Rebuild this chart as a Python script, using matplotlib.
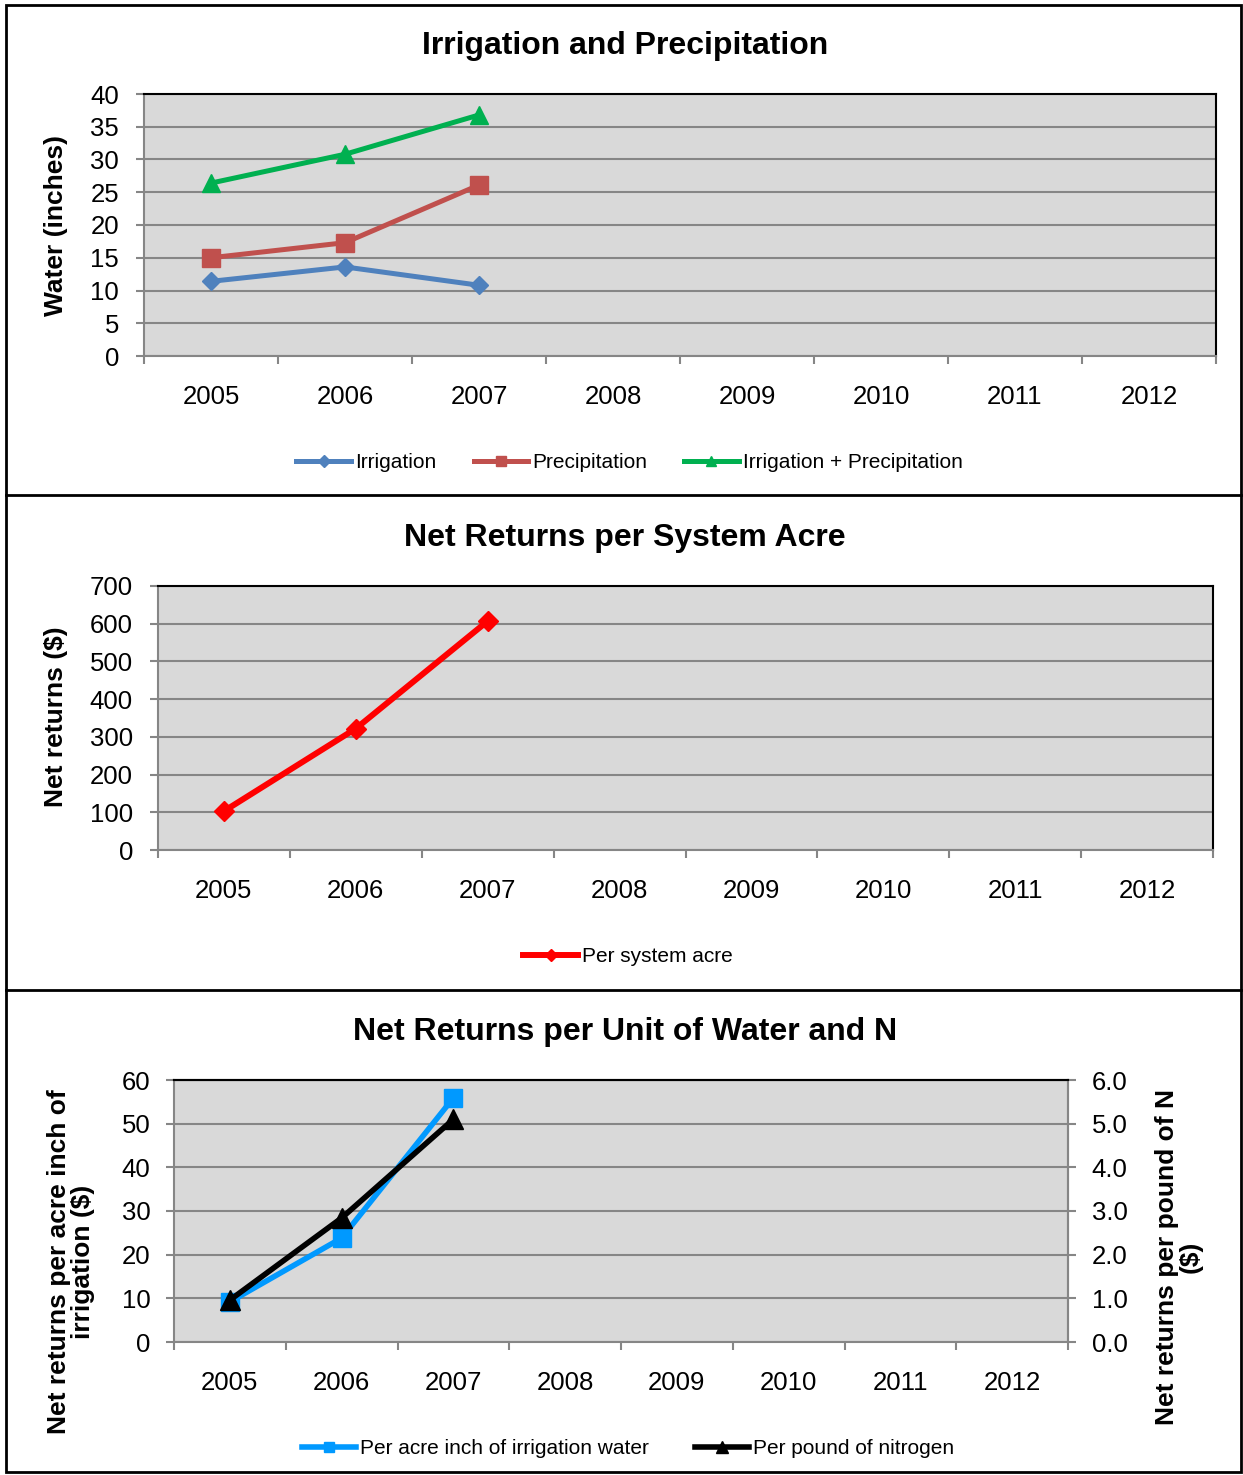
import matplotlib
matplotlib.use("Agg")
import matplotlib.pyplot as plt
from matplotlib.patches import Rectangle
from matplotlib.ticker import FormatStrFormatter

plt.rcParams.update({
    "font.family": ["Liberation Sans", "DejaVu Sans"],
    "font.size": 18.5,
})

years = ["2005", "2006", "2007", "2008", "2009", "2010", "2011", "2012"]

# water applied / received (inches), only 2005-2007 measured so far
irrigation = [11.4, 13.6, 10.8]
precipitation = [15.0, 17.3, 26.1]
irr_plus_precip = [26.4, 30.8, 36.8]

# net returns ($)
per_system_acre = [103, 322, 607]
per_acre_inch = [9.2, 23.8, 55.9]
per_lb_nitrogen = [0.96, 2.84, 5.10]

BG = "#D9D9D9"
GRID = "#868686"
TICK_FS = 18.5

W, H = 1243, 1475
fig = plt.figure(figsize=(W / 100, H / 100), dpi=100)


def px_box(left, top, right, bottom):
    return [left / W, 1 - bottom / H, (right - left) / W, (bottom - top) / H]


def style_axes(ax, ymax, ystep, ypad):
    ax.set_facecolor(BG)
    ax.set_xlim(-0.5, len(years) - 0.5)
    ax.set_ylim(0, ymax)
    ax.set_yticks(range(0, ymax + 1, ystep))
    ax.yaxis.grid(True, color=GRID, linewidth=1.5)
    ax.set_axisbelow(True)
    ax.set_xticks(range(len(years)))
    ax.set_xticklabels(years)
    ax.set_xticks([i - 0.5 for i in range(len(years) + 1)], minor=True)
    ax.tick_params(axis="x", which="major", length=0, pad=21, labelsize=TICK_FS)
    ax.tick_params(axis="x", which="minor", length=6, width=1.5, color=GRID)
    ax.tick_params(axis="y", length=6, width=1.5, color=GRID, pad=ypad,
                   labelsize=TICK_FS)
    for side in ("left", "bottom"):
        ax.spines[side].set_color(GRID)
        ax.spines[side].set_linewidth(1.5)
    for side in ("top", "right"):
        ax.spines[side].set_color("black")
        ax.spines[side].set_linewidth(1.5)


# outer frame and panel separators
fig.add_artist(Rectangle((6 / W, 1 - 1472 / H), 1235 / W, 1467 / H,
                         transform=fig.transFigure, fill=False,
                         edgecolor="black", linewidth=2))
for yy in (495, 990):
    fig.add_artist(plt.Line2D([6 / W, 1241 / W], [1 - yy / H] * 2,
                              transform=fig.transFigure, color="black", linewidth=2))

x3 = range(len(irrigation))

# --- Irrigation and Precipitation ---
ax1 = fig.add_axes(px_box(144, 94, 1216, 356))
style_axes(ax1, 40, 5, 12)
h1 = ax1.plot(x3, irrigation, color="#4F81BD", lw=3.6, marker="D", ms=9.5,
              label="Irrigation")[0]
h2 = ax1.plot(x3, precipitation, color="#C0504D", lw=3.6, marker="s", ms=13,
              label="Precipitation")[0]
h3 = ax1.plot(x3, irr_plus_precip, color="#00B050", lw=3.6, marker="^", ms=13,
              label="Irrigation + Precipitation")[0]
fig.text(625 / W, 1 - 46 / H, "Irrigation and Precipitation", ha="center",
         va="center", fontsize=23, fontweight="bold")
fig.text(56 / W, 1 - 225 / H, "Water (inches)", rotation=90, ha="center",
         va="center", fontsize=19, fontweight="bold")
leg_kw = dict(frameon=False, fontsize=15, handlelength=2.6, handletextpad=0.2,
              columnspacing=1.8, markerscale=0.6, loc="center")
fig.legend(handles=[h1, h2, h3], ncol=3,
           bbox_to_anchor=(629.5 / W, 1 - 463 / H), **leg_kw)

# --- Net Returns per System Acre ---
ax2 = fig.add_axes(px_box(158, 586, 1213, 850))
style_axes(ax2, 700, 100, 12)
h4 = ax2.plot(x3, per_system_acre, color="#FF0000", lw=4.3, marker="D", ms=10,
              label="Per system acre")[0]
fig.text(625 / W, 1 - 538 / H, "Net Returns per System Acre", ha="center",
         va="center", fontsize=23, fontweight="bold")
fig.text(56 / W, 1 - 717 / H, "Net returns ($)", rotation=90, ha="center",
         va="center", fontsize=19, fontweight="bold")
fig.legend(handles=[h4], bbox_to_anchor=(628 / W, 1 - 957 / H), **leg_kw)

# --- Net Returns per Unit of Water and N ---
ax3 = fig.add_axes(px_box(174, 1080, 1068, 1342))
style_axes(ax3, 60, 10, 11)
ax3.spines["right"].set_color(GRID)
h5 = ax3.plot(x3, per_acre_inch, color="#0099FF", lw=4.0, marker="s", ms=13,
              label="Per acre inch of irrigation water")[0]
ax3r = ax3.twinx()
ax3r.set_ylim(0, 6)
ax3r.set_yticks([0, 1, 2, 3, 4, 5, 6])
ax3r.yaxis.set_major_formatter(FormatStrFormatter("%.1f"))
ax3r.tick_params(axis="y", length=6, width=1.5, color=GRID, pad=11,
                 labelsize=TICK_FS)
ax3r.spines["right"].set_color(GRID)
ax3r.spines["right"].set_linewidth(1.5)
ax3r.spines["top"].set_color("black")
ax3r.spines["top"].set_linewidth(1.5)
ax3r.spines["left"].set_visible(False)
ax3r.spines["bottom"].set_visible(False)
h6 = ax3r.plot(x3, per_lb_nitrogen, color="black", lw=4.0, marker="^", ms=15,
               label="Per pound of nitrogen")[0]
fig.text(625 / W, 1 - 1032 / H, "Net Returns per Unit of Water and N",
         ha="center", va="center", fontsize=23, fontweight="bold")
fig.text(71 / W, 1 - 1262 / H, "Net returns per acre inch of\nirrigation ($)",
         rotation=90, ha="center", va="center", fontsize=19, fontweight="bold",
         linespacing=1.0, multialignment="center")
fig.text(1179 / W, 1 - 1257 / H, "Net returns per pound of N\n($)",
         rotation=90, ha="center", va="center", fontsize=19, fontweight="bold",
         linespacing=1.0, multialignment="center")
fig.legend(handles=[h5, h6], ncol=2, bbox_to_anchor=(628 / W, 1 - 1449 / H),
           **{**leg_kw, "columnspacing": 2.2})

fig.savefig("out.png", dpi=100)
